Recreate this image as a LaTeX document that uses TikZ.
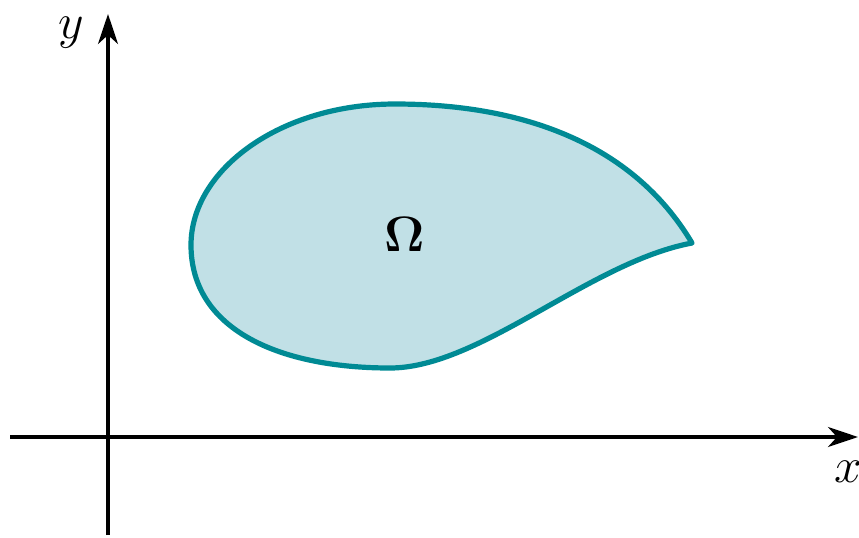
\documentclass[tikz,border=0pt]{standalone}
\usepackage{amsmath,amssymb}
\usepackage{tikz}
\usetikzlibrary{arrows.meta}

\definecolor{regionedge}{RGB}{0,138,148}
\definecolor{regionfill}{RGB}{193,224,230}

\begin{document}
\begin{tikzpicture}[x=0.5pt,y=-0.5pt,
	axis/.style={line width=1.7pt, -{Stealth[length=15pt,width=10pt,inset=4.5pt]}},
	lbl/.style={inner sep=0pt, font=\fontsize{28}{30}\selectfont},
	biglbl/.style={font=\fontsize{34}{36}\selectfont}]
	\useasboundingbox (0,0) rectangle (859,537);
	% axes
	\coordinate (xs) at (10,437);
	\coordinate (xe) at (858,437);
	\coordinate (ys) at (108,535);
	\coordinate (ye) at (108,14);
	\draw[axis] (xs) -- (xe);
	\draw[axis] (ys) -- (ye);
	\node[lbl] (xl) at (848,472) {$x$};
	\node[lbl] (yl) at (71,33) {$y$};
	% the region
	\draw[line width=2.6pt, regionedge, fill=regionfill, line join=round]
		(692,243) .. controls (632,142) and (520,104) .. (395,104)
		.. controls (280,104) and (191,170) .. (191,245)
		.. controls (191,330) and (280,368) .. (390,368)
		.. controls (480,368) and (590,262) .. (692,243) -- cycle;
	\node[biglbl] (om) at (405,234) {$\mathbf{\Omega}$};
\end{tikzpicture}
\end{document}
